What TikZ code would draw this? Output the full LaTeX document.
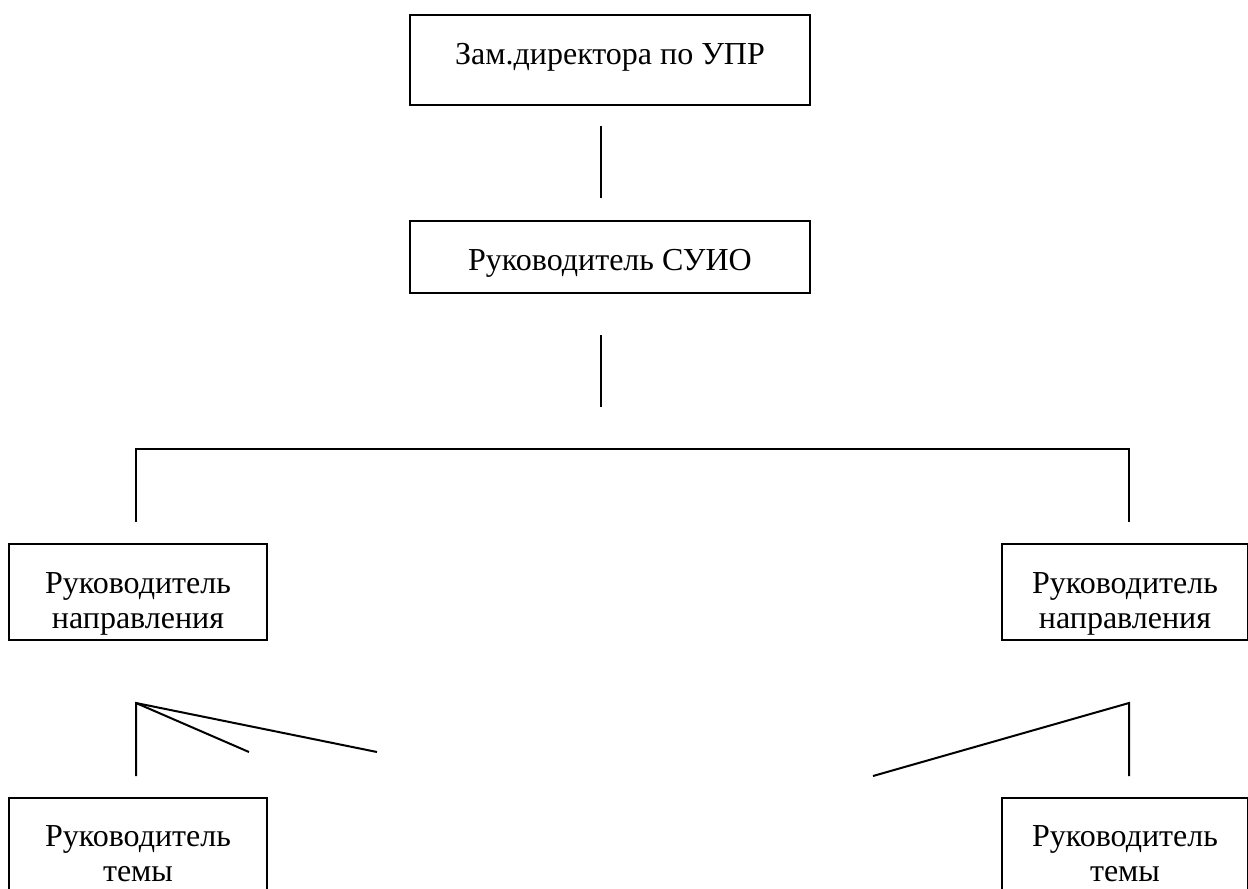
\documentclass[tikz,border=0pt]{standalone}
\usepackage{fontspec}
\setmainfont{Liberation Serif}
\begin{document}
\begin{tikzpicture}[x=0.4pt,y=-0.4pt,line width=0.8pt,
    box/.style={draw, inner sep=0pt, align=center, anchor=north west,
      text height=19.6pt, font=\fontsize{12.8}{13.8}\selectfont}]
  \useasboundingbox (0,0) rectangle (1248,888);
  \clip (0,0) rectangle (1248,888);
  % boxes
  \node[box, minimum width=160pt, text depth=16.4pt] (zam) at (409,14) {Зам.директора по УПР};
  \node[box, minimum width=160pt, text depth=9.2pt] (suio) at (409,220) {Руководитель СУИО};
  \node[box, minimum width=103.2pt, text height=33.6pt, text depth=4.8pt] (dir1) at (8,543) {Руководитель\\направления};
  \node[box, minimum width=98.4pt, text height=33.6pt, text depth=4.8pt] (dir2) at (1001,543) {Руководитель\\направления};
  \node[box, minimum width=103.2pt, text height=33.2pt, text depth=20pt] (tema1) at (8,797) {Руководитель\\темы};
  \node[box, minimum width=98.4pt, text height=33.2pt, text depth=20pt] (tema2) at (1001,797) {Руководитель\\темы};
  % line ends
  \coordinate (a1) at (601,126);
  \coordinate (a2) at (601,198);
  \coordinate (b1) at (601,335);
  \coordinate (b2) at (601,407);
  \coordinate (brl) at (136,522);
  \coordinate (brlt) at (136,449);
  \coordinate (brrt) at (1129,449);
  \coordinate (brr) at (1129,522);
  \coordinate (fl) at (136,703);
  \coordinate (fl1) at (136,776);
  \coordinate (fl2) at (249,752);
  \coordinate (fl3) at (377,752);
  \coordinate (fr) at (1129,703);
  \coordinate (fr1) at (1129,776);
  \coordinate (fr2) at (873,776);
  % lines
  \draw (a1) -- (a2);
  \draw (b1) -- (b2);
  \draw (brl) -- (brlt) -- (brrt) -- (brr);
  \draw (fl1) -- (fl) -- (fl3);
  \draw (fl) -- (fl2);
  \draw (fr2) -- (fr) -- (fr1);
\end{tikzpicture}
\end{document}
